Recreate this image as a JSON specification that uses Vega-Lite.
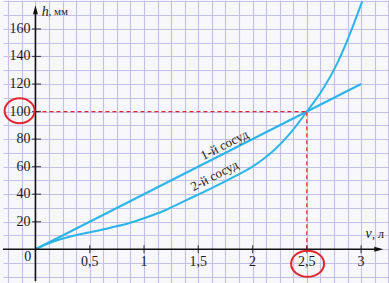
{
  "$schema": "https://vega.github.io/schema/vega-lite/v6.json",
  "width": 389,
  "height": 283,
  "autosize": {"type": "fit", "contains": "padding"},
  "padding": 0,
  "background": "#f8f7fc",
  "data": {"values": [{}]},
  "config": {
    "view": {"stroke": null},
    "font": "Liberation Serif",
    "axis": {"domain": false, "ticks": false, "labels": false, "grid": false, "gridColor": "#c2c1ec", "gridWidth": 1.1}
  },
  "resolve": {"axis": {"x": "independent", "y": "independent"}},
  "datasets": {
    "vessel1": [{"v": 0, "h": 0}, {"v": 3, "h": 120}],
    "vessel2": [
      {"v": 0, "h": 0}, {"v": 0.1, "h": 3.5}, {"v": 0.2, "h": 6.5}, {"v": 0.35, "h": 9.8},
      {"v": 0.5, "h": 12.3}, {"v": 0.7, "h": 15.8}, {"v": 0.86, "h": 18.9}, {"v": 1.0, "h": 22.5},
      {"v": 1.2, "h": 28.5}, {"v": 1.4, "h": 36}, {"v": 1.6, "h": 43.5}, {"v": 1.8, "h": 51.5},
      {"v": 2.0, "h": 60}, {"v": 2.1, "h": 65.5}, {"v": 2.2, "h": 72}, {"v": 2.35, "h": 84.5},
      {"v": 2.5, "h": 100}, {"v": 2.65, "h": 116.5}, {"v": 2.78, "h": 135}, {"v": 2.9, "h": 157},
      {"v": 3.01, "h": 180}
    ],
    "xticks": [
      {"v": 0.5, "label": "0,5"}, {"v": 1, "label": "1"}, {"v": 1.5, "label": "1,5"},
      {"v": 2, "label": "2"}, {"v": 2.5, "label": "2,5"}, {"v": 3, "label": "3"}
    ],
    "yticks": [
      {"h": 20, "label": "20"}, {"h": 40, "label": "40"}, {"h": 60, "label": "60"},
      {"h": 80, "label": "80"}, {"h": 100, "label": "100"}, {"h": 120, "label": "120"},
      {"h": 140, "label": "140"}, {"h": 160, "label": "160"}
    ]
  },
  "layer": [
    {
      "data": {"name": "vessel1"},
      "mark": {"type": "line", "color": "#2ab4e8", "strokeWidth": 2, "clip": true},
      "encoding": {
        "x": {"field": "v", "type": "quantitative", "title": null,
              "scale": {"domain": [-0.299, 3.257], "nice": false, "zero": false},
              "axis": {"grid": true, "values": [-0.25, -0.125, 0, 0.125, 0.25, 0.375, 0.5, 0.625, 0.75, 0.875, 1, 1.125, 1.25, 1.375, 1.5, 1.625, 1.75, 1.875, 2, 2.125, 2.25, 2.375, 2.5, 2.625, 2.75, 2.875, 3, 3.125, 3.25]}},
        "y": {"field": "h", "type": "quantitative", "title": null,
              "scale": {"domain": [-24.5, 181], "nice": false, "zero": false},
              "axis": {"grid": true, "values": [-20, -10, 0, 10, 20, 30, 40, 50, 60, 70, 80, 90, 100, 110, 120, 130, 140, 150, 160, 170, 180]}}
      }
    },
    {
      "data": {"name": "vessel2"},
      "mark": {"type": "line", "color": "#2ab4e8", "strokeWidth": 2, "interpolate": "monotone", "clip": true},
      "encoding": {
        "x": {"field": "v", "type": "quantitative", "title": null},
        "y": {"field": "h", "type": "quantitative", "title": null}
      }
    },
    {
      "mark": {"type": "rule", "color": "#e3262e", "strokeWidth": 1.2, "strokeDash": [4, 3]},
      "encoding": {
        "x": {"datum": 0, "type": "quantitative"}, "x2": {"datum": 2.5},
        "y": {"datum": 100, "type": "quantitative"}
      }
    },
    {
      "mark": {"type": "rule", "color": "#e3262e", "strokeWidth": 1.2, "strokeDash": [4, 3]},
      "encoding": {
        "x": {"datum": 2.5, "type": "quantitative"},
        "y": {"datum": 0, "type": "quantitative"}, "y2": {"datum": 100}
      }
    },
    {
      "mark": {"type": "rule", "color": "#111111", "strokeWidth": 1.6},
      "encoding": {
        "x": {"datum": -0.3, "type": "quantitative"}, "x2": {"datum": 3.17},
        "y": {"datum": 0, "type": "quantitative"}
      }
    },
    {
      "mark": {"type": "rule", "color": "#111111", "strokeWidth": 1.6},
      "encoding": {
        "x": {"datum": 0, "type": "quantitative"},
        "y": {"datum": -23, "type": "quantitative"}, "y2": {"datum": 172}
      }
    },
    {
      "mark": {"type": "point", "shape": "M1,0 L-1,-0.55 L-1,0.55 Z", "filled": true, "color": "#111111", "size": 81, "opacity": 1},
      "encoding": {
        "x": {"datum": 3.163, "type": "quantitative"},
        "y": {"datum": 0, "type": "quantitative"}
      }
    },
    {
      "mark": {"type": "point", "shape": "M0,-1 L-0.55,1 L0.55,1 Z", "filled": true, "color": "#111111", "size": 81, "opacity": 1},
      "encoding": {
        "x": {"datum": 0, "type": "quantitative"},
        "y": {"datum": 174, "type": "quantitative"}
      }
    },
    {
      "data": {"name": "xticks"},
      "mark": {"type": "tick", "orient": "vertical", "color": "#111111", "size": 8, "thickness": 1.2},
      "encoding": {
        "x": {"field": "v", "type": "quantitative", "title": null},
        "y": {"datum": 0, "type": "quantitative"}
      }
    },
    {
      "data": {"name": "yticks"},
      "mark": {"type": "tick", "orient": "horizontal", "color": "#111111", "size": 9, "thickness": 1.2},
      "encoding": {
        "x": {"datum": 0.01, "type": "quantitative"},
        "y": {"field": "h", "type": "quantitative", "title": null}
      }
    },
    {
      "data": {"name": "xticks"},
      "mark": {"type": "text", "fontSize": 14, "color": "#1a1a1a", "align": "center", "baseline": "middle"},
      "encoding": {
        "x": {"field": "v", "type": "quantitative", "title": null},
        "y": {"datum": -9.5, "type": "quantitative"},
        "text": {"field": "label"}
      }
    },
    {
      "data": {"name": "yticks"},
      "mark": {"type": "text", "fontSize": 14, "color": "#1a1a1a", "align": "right", "baseline": "middle"},
      "encoding": {
        "x": {"datum": -0.045, "type": "quantitative"},
        "y": {"field": "h", "type": "quantitative", "title": null},
        "text": {"field": "label"}
      }
    },
    {
      "mark": {"type": "text", "fontSize": 14, "color": "#1a1a1a", "align": "center", "baseline": "middle"},
      "encoding": {
        "x": {"datum": -0.07, "type": "quantitative"},
        "y": {"datum": -5.5, "type": "quantitative"},
        "text": {"value": "0"}
      }
    },
    {
      "mark": {"type": "text", "fontSize": 14, "fontStyle": "italic", "color": "#1a1a1a", "align": "left", "baseline": "middle"},
      "encoding": {
        "x": {"datum": 0.058, "type": "quantitative"},
        "y": {"datum": 172.5, "type": "quantitative"},
        "text": {"value": "h"}
      }
    },
    {
      "mark": {"type": "text", "fontSize": 11, "color": "#1a1a1a", "align": "left", "baseline": "middle"},
      "encoding": {
        "x": {"datum": 0.12, "type": "quantitative"},
        "y": {"datum": 172, "type": "quantitative"},
        "text": {"value": ", мм"}
      }
    },
    {
      "mark": {"type": "text", "fontSize": 14, "fontStyle": "italic", "color": "#1a1a1a", "align": "left", "baseline": "middle"},
      "encoding": {
        "x": {"datum": 3.04, "type": "quantitative"},
        "y": {"datum": 10.8, "type": "quantitative"},
        "text": {"value": "v"}
      }
    },
    {
      "mark": {"type": "text", "fontSize": 12, "color": "#1a1a1a", "align": "left", "baseline": "middle"},
      "encoding": {
        "x": {"datum": 3.1, "type": "quantitative"},
        "y": {"datum": 10.8, "type": "quantitative"},
        "text": {"value": ", л"}
      }
    },
    {
      "mark": {"type": "text", "fontSize": 13, "color": "#1a1a1a", "align": "center", "baseline": "middle", "angle": -26.7},
      "encoding": {
        "x": {"datum": 1.742, "type": "quantitative"},
        "y": {"datum": 75.7, "type": "quantitative"},
        "text": {"value": "1-й сосуд"}
      }
    },
    {
      "mark": {"type": "text", "fontSize": 13, "color": "#1a1a1a", "align": "center", "baseline": "middle", "angle": -27.5},
      "encoding": {
        "x": {"datum": 1.65, "type": "quantitative"},
        "y": {"datum": 53.4, "type": "quantitative"},
        "text": {"value": "2-й сосуд"}
      }
    },
    {
      "mark": {"type": "point", "shape": "M-1,0 A1,0.83 0 1,1 1,0 A1,0.83 0 1,1 -1,0 Z", "filled": false, "color": "#e3262e", "strokeWidth": 2, "size": 900, "opacity": 1},
      "encoding": {
        "x": {"datum": -0.146, "type": "quantitative"},
        "y": {"datum": 100.6, "type": "quantitative"}
      }
    },
    {
      "mark": {"type": "point", "shape": "M-1,0 A1,0.79 0 1,1 1,0 A1,0.79 0 1,1 -1,0 Z", "filled": false, "color": "#e3262e", "strokeWidth": 2, "size": 1089, "opacity": 1},
      "encoding": {
        "x": {"datum": 2.507, "type": "quantitative"},
        "y": {"datum": -10.5, "type": "quantitative"}
      }
    }
  ]
}
